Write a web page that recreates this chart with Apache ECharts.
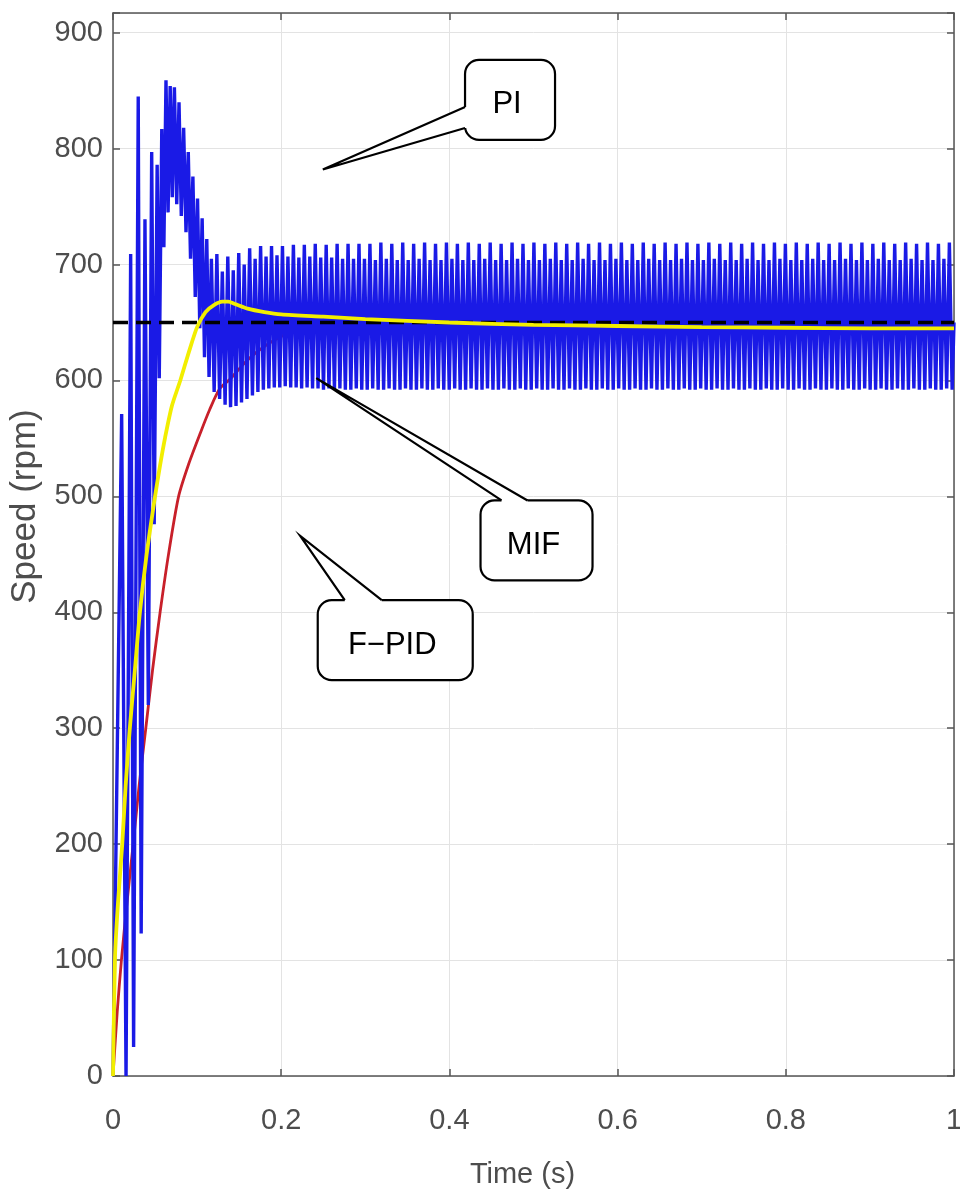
<!DOCTYPE html>
<html><head><meta charset="utf-8">
<script src="https://cdn.jsdelivr.net/npm/echarts@6/dist/echarts.min.js"></script>
<style>html,body{margin:0;padding:0;background:#fff}#c{width:960px;height:1199px}</style>
</head><body><div id="c"></div>
<script>
// ---- data (time s, speed rpm) ----
const xTicks = [0, 0.2, 0.4, 0.6, 0.8, 1];
const referenceSpeed = [[0, 650], [1, 650]];
const mifSpeed = [[0,0],[0.0024,103],[0.006,150],[0.011,200],[0.015,250],[0.02,300],[0.026,350],[0.032,400],[0.04,450],[0.05,500],[0.056,527],[0.062,551],[0.07,578],[0.08,600],[0.09,624],[0.1,646],[0.11,659],[0.12,665],[0.13,668],[0.137,668],[0.145,666],[0.16,662],[0.18,659],[0.2,657],[0.25,655],[0.3,653],[0.4,650],[0.5,648],[0.6,647],[0.7,646],[0.8,645.5],[0.9,645],[1.0,645]];
const fpidSpeed = [[0,0],[0.005,55],[0.01,100],[0.017,152],[0.024,200],[0.031,250],[0.039,300],[0.047,350],[0.056,400],[0.066,450],[0.078,500],[0.09,528],[0.104,555],[0.115,575],[0.127,593],[0.139,601],[0.155,614],[0.17,624],[0.19,634],[0.21,641],[0.24,645],[0.28,647],[0.35,648],[0.6,648],[1.0,648]];
const piSpeed = [[0,0],[0.0103,571],[0.0155,0],[0.021,709],[0.0245,25],[0.030,845],[0.0335,123],[0.038,739],[0.042,320],[0.046,797],[0.049,476],[0.0525,786],[0.055,602],[0.058,817],[0.0605,715],[0.063,859],[0.0655,745],[0.068,854],[0.0705,758],[0.073,853],[0.0758,752],[0.0785,840],[0.0812,742],[0.084,818],[0.0868,728],[0.0895,797],[0.0922,705],[0.095,776],[0.0978,672],[0.1005,757],[0.1032,645],[0.106,740],[0.1088,620],[0.1115,722],[0.1142,603],
[0.117,705],[0.1203,590],[0.1235,709],[0.1268,584],[0.130,694],[0.1333,579],[0.1365,707],[0.1398,577],[0.143,695],[0.1463,578],[0.1495,710],[0.1528,581],[0.156,700],[0.1593,584],[0.1625,714],[0.1658,587],[0.169,705],[0.1723,590],[0.1755,716],[0.1788,592],[0.182,707],[0.1853,593],[0.1885,716],[0.1918,594],[0.195,708],[0.1983,594],[0.2015,716],[0.2048,595],[0.208,707],[0.2113,594],[0.2145,717],[0.2178,594],[0.221,706],[0.2243,593],[0.2275,717],[0.2308,594],[0.234,707],[0.2373,593],[0.2405,718],[0.2438,593],[0.247,706],[0.2503,592],[0.2535,717],[0.2568,593],[0.260,706],[0.2633,592],[0.2665,718],[0.2698,593],[0.273,705],[0.2763,592],[0.2795,718],[0.2828,592],[0.286,705],[0.2893,593],[0.2925,718],[0.2958,592],[0.299,705],[0.3023,592],[0.3055,718],[0.3088,593],[0.312,704],[0.3153,592],[0.3185,719],[0.3218,592],[0.325,705],[0.3283,593],[0.3315,718],[0.3348,592],[0.338,704],[0.3413,592],[0.3445,719],[0.3478,593],[0.351,704],[0.3543,592],[0.3575,718],[0.3608,592],[0.364,705],[0.3673,593],[0.3705,719],[0.3738,592],[0.377,704],[0.3803,592],[0.3835,718],[0.3868,593],[0.390,704],[0.3933,592],[0.3965,719],[0.3998,592],[0.403,705],[0.4063,593],[0.4095,718],[0.4128,592],[0.416,704],[0.4193,592],[0.4225,719],[0.4258,593],[0.429,704],[0.4323,592],[0.4355,718],[0.4388,592],[0.442,705],[0.4453,593],[0.4485,719],[0.4518,592],[0.455,704],[0.4583,592],[0.4615,718],[0.4648,593],[0.468,704],[0.4713,592],[0.4745,719],[0.4778,592],[0.481,705],[0.4843,593],[0.4875,718],[0.4908,592],[0.494,704],[0.4973,592],[0.5005,719],[0.5038,593],[0.507,704],[0.5103,592],[0.5135,718],[0.5168,592],[0.520,705],[0.5233,593],[0.5265,719],[0.5298,592],[0.533,704],[0.5363,592],[0.5395,718],[0.5428,593],[0.546,704],[0.5493,592],[0.5525,719],[0.5558,592],[0.559,705],[0.5623,593],[0.5655,718],[0.5688,592],[0.572,704],[0.5753,592],[0.5785,719],[0.5818,593],[0.585,704],[0.5883,592],[0.5915,718],[0.5948,592],[0.598,705],[0.6013,593],[0.6045,719],[0.6078,592],[0.611,704],[0.6143,592],[0.6175,718],[0.6208,593],[0.624,704],[0.6273,592],[0.6305,719],[0.6338,592],[0.637,705],[0.6403,593],[0.6435,718],[0.6468,592],[0.650,704],[0.6533,592],[0.6565,719],[0.6598,593],[0.663,704],[0.6663,592],[0.6695,718],[0.6728,592],[0.676,705],[0.6793,593],[0.6825,719],[0.6858,592],[0.689,704],[0.6923,592],[0.6955,718],[0.6988,593],[0.702,704],[0.7053,592],[0.7085,719],[0.7118,592],[0.715,705],[0.7183,593],[0.7215,718],[0.7248,592],[0.728,704],[0.7313,592],[0.7345,719],[0.7378,593],[0.741,704],[0.7443,592],[0.7475,718],[0.7508,592],[0.754,705],[0.7573,593],[0.7605,719],[0.7638,592],[0.767,704],[0.7703,592],[0.7735,718],[0.7768,593],[0.780,704],[0.7833,592],[0.7865,719],[0.7898,592],[0.793,705],[0.7963,593],[0.7995,718],[0.8028,592],[0.806,704],[0.8093,592],[0.8125,719],[0.8158,593],[0.819,704],[0.8223,592],[0.8255,718],[0.8288,592],[0.832,705],[0.8353,593],[0.8385,719],[0.8418,592],[0.845,704],[0.8483,592],[0.8515,718],[0.8548,593],[0.858,704],[0.8613,592],[0.8645,719],[0.8678,592],[0.871,705],[0.8743,593],[0.8775,718],[0.8808,592],[0.884,704],[0.8873,592],[0.8905,719],[0.8938,593],[0.897,704],[0.9003,592],[0.9035,718],[0.9068,592],[0.910,705],[0.9133,593],[0.9165,719],[0.9198,592],[0.923,704],[0.9263,592],[0.9295,718],[0.9328,593],[0.936,704],[0.9393,592],[0.9425,719],[0.9458,592],[0.949,705],[0.9523,593],[0.9555,718],[0.9588,592],[0.962,704],[0.9653,592],[0.9685,719],[0.9718,593],[0.975,704],[0.9783,592],[0.9815,718],[0.9848,592],[0.988,705],[0.9913,593],[0.9945,719],[0.9978,592],[1.0,650]];

// callout annotations (data coordinates)
const calloutLabels = ['PI', 'MIF', 'F\u2212PID'];
const calloutTips = [[0.2495, 782], [0.2417, 602], [0.2226, 466]];
const calloutCenters = [[0.4721, 842], [0.5036, 462], [0.3356, 376]];

// ---- styles ----
const calloutBoxSizes = [[90, 80], [112, 80], [155, 80]];
const calloutWedges = [{side:'left', a:47, b:68}, {side:'top', a:21, b:47}, {side:'top', a:27, b:64}];
const regFont = "'Liberation Sans',Arial,Helvetica,sans-serif";
const axisCol = '#555';
const labelCol = '#4d4d4d';

const chart = echarts.init(document.getElementById('c'), null, {renderer: 'canvas'});

const mirrorAxis = (pos, min, max, interval) => ({
  type: 'value', position: pos, min, max, interval,
  axisLine: {show: true, onZero: false, lineStyle: {color: axisCol, width: 1.5}},
  axisTick: {show: true, inside: true, length: 7, lineStyle: {color: axisCol, width: 1.5}},
  axisLabel: {show: false}, splitLine: {show: false}
});

chart.setOption({
  animation: false,
  backgroundColor: '#fff',
  grid: {left: 113, right: 6, top: 13, bottom: 123, containLabel: false, outerBoundsMode: 'none'},
  xAxis: [{
    type: 'value', min: 0, max: 1, interval: 0.2, position: 'bottom',
    axisLine: {show: true, onZero: false, lineStyle: {color: axisCol, width: 1.5}},
    axisTick: {show: true, inside: true, length: 7, lineStyle: {color: axisCol, width: 1.5}},
    axisLabel: {margin: 30, color: labelCol, fontSize: 29, fontFamily: regFont,
      formatter: v => { const t = xTicks.find(k => Math.abs(k - v) < 1e-9); return t === undefined ? '' : String(t); }},
    splitLine: {show: true, lineStyle: {color: '#e3e3e3', width: 1}},
    name: 'Time (s)', nameLocation: 'middle', nameGap: 84,
    nameTextStyle: {color: labelCol, fontSize: 29, fontFamily: regFont, padding: [0, 22, 0, 0]}
  }, mirrorAxis('top', 0, 1, 0.2)],
  yAxis: [{
    type: 'value', min: 0, max: 917, interval: 100, position: 'left',
    axisLine: {show: true, onZero: false, lineStyle: {color: axisCol, width: 1.5}},
    axisTick: {show: true, inside: true, length: 7, lineStyle: {color: axisCol, width: 1.5}},
    axisLabel: {margin: 10, color: labelCol, fontSize: 29, fontFamily: regFont,
      formatter: v => (v % 100 === 0 ? String(v) : '')},
    splitLine: {show: true, lineStyle: {color: '#e3e3e3', width: 1}},
    name: 'Speed (rpm)', nameLocation: 'middle', nameGap: 70,
    nameTextStyle: {color: labelCol, fontSize: 35, fontFamily: regFont, padding: [0, 0, 0, 76]}
  }, mirrorAxis('right', 0, 917, 100)],
  series: [
    {name: 'F-PID', type: 'line', data: fpidSpeed, showSymbol: false, z: 2, smooth: 0.25,
      lineStyle: {color: '#c8202a', width: 2.8}, itemStyle: {color: '#c8202a'}},
    {name: 'PI', type: 'line', data: piSpeed, showSymbol: false, sampling: 'none', z: 3,
      lineStyle: {color: '#1a1ae6', width: 3.4}, itemStyle: {color: '#1a1ae6'}},
    {name: 'Reference', type: 'line', data: referenceSpeed, showSymbol: false, z: 4,
      lineStyle: {color: '#000', width: 3.5, type: [15, 8]}, itemStyle: {color: '#000'}},
    {name: 'MIF', type: 'line', data: mifSpeed, showSymbol: false, z: 5, smooth: 0.25,
      lineStyle: {color: '#f2ee00', width: 3.8}, itemStyle: {color: '#f2ee00'}}
  ]
});

function buildCallouts() {
  const els = [];
  calloutLabels.forEach((label, i) => {
    const c = chart.convertToPixel({xAxisIndex: 0, yAxisIndex: 0}, calloutCenters[i]);
    const tip = chart.convertToPixel({xAxisIndex: 0, yAxisIndex: 0}, calloutTips[i]);
    const [w, h] = calloutBoxSizes[i];
    const x0 = c[0] - w / 2, y0 = c[1] - h / 2;
    const s = calloutWedges[i];
    let b1, b2, i1, i2;
    if (s.side === 'left') { b1 = [x0, y0 + s.a]; b2 = [x0, y0 + s.b]; i1 = [x0 + 3, y0 + s.a]; i2 = [x0 + 3, y0 + s.b]; }
    else { b1 = [x0 + s.a, y0]; b2 = [x0 + s.b, y0]; i1 = [x0 + s.a, y0 + 3]; i2 = [x0 + s.b, y0 + 3]; }
    els.push({type: 'rect', shape: {x: x0, y: y0, width: w, height: h, r: 14}, style: {fill: '#fff', stroke: '#000', lineWidth: 2.2}, z: 100});
    els.push({type: 'polygon', shape: {points: [i1, b1, tip, b2, i2]}, style: {fill: '#fff', lineWidth: 0}, z: 101});
    els.push({type: 'polyline', shape: {points: [b1, tip, b2]}, style: {stroke: '#000', lineWidth: 2.2, fill: null}, z: 102});
    els.push({type: 'text', x: c[0] - 3, y: c[1] + 5, style: {text: label, fill: '#000', fontSize: 31, fontFamily: regFont, align: 'center', verticalAlign: 'middle'}, z: 103});
  });
  chart.setOption({graphic: {elements: els}});
}
buildCallouts();
</script>
</body></html>
